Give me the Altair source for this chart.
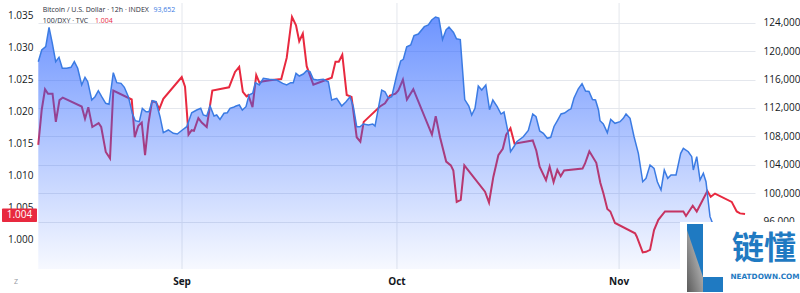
import altair as alt
import pandas as pd

# ---------------- data (time = days from 2025-09-01 00:00 UTC) ----------------
btc_day = [-20.06,-19.58,-19.02,-18.56,-18.10,-17.63,-17.17,-16.71,-16.09,-15.49,
           -15.03,-14.56,-14.00,-13.54,-13.16,-12.60,-12.14,-11.68,-11.21,-10.65,
           -10.19,-9.59,-9.11,-8.51,-8.05,-7.49,-6.94,-6.52,-5.96,-5.54,
           -5.02,-4.61,-4.15,-3.63,-3.07,-2.61,-1.91,-1.21,-0.66,0.04,
           0.66,1.35,2.05,2.61,2.97,3.45,3.91,4.47,4.84,5.30,
           5.86,6.32,6.70,7.16,7.54,8.00,8.42,8.93,9.35,9.87,
           10.23,10.79,11.35,12.18,13.22,14.05,14.61,15.17,15.53,15.91,
           16.37,16.93,17.40,17.86,18.33,18.88,19.72,20.42,20.89,21.59,
           22.29,22.89,23.45,23.91,24.38,24.84,25.30,26.00,26.62,26.94,
           27.40,27.87,28.33,28.79,29.27,29.97,30.52,30.89,31.36,31.92,
           32.38,32.98,33.82,34.38,34.85,35.38,35.84,36.36,36.85,37.26,
           37.89,38.31,38.84,39.46,40.03,40.43,40.89,41.35,41.83,42.40,
           42.92,43.38,43.99,44.52,44.94,45.54,45.85,46.38,46.71,47.63,
           48.33,48.95,49.41,49.92,50.43,50.98,51.46,51.92,52.41,52.90,
           53.39,53.94,54.29,54.71,55.31,55.83,56.32,56.80,57.29,57.71,
           58.13,58.34,58.80,59.36,59.83,60.43,61.13,61.59,61.97,62.53,
           63.09,63.69,64.30,64.76,65.32,65.88,66.34,66.85,67.31,67.79,
           68.25,68.95,69.60,69.97,70.66,71.14,71.36,71.84,72.30,72.76,
           73.13,73.69,74.53,75.50,76.50,77.50,78.58]
btc_price = [118510,120160,120620,123350,121100,118510,119130,117580,117580,117720,
             118510,117580,115230,116310,115690,113110,113580,114420,113580,112650,
             112510,116960,115550,115460,114900,113580,111240,110200,110060,111940,
             111460,111460,113010,112870,110760,108510,108890,108420,108320,108890,
             109350,111320,111700,111940,111000,110860,112270,110860,111000,110390,
             111240,111320,111940,112080,112270,112410,111700,112170,113820,114060,
             115550,115230,116170,116030,115930,115460,115230,115550,115550,116870,
             116490,116770,117240,117100,116030,115930,116030,115690,113110,113350,
             112270,112870,113580,112170,109350,109350,109730,109590,109730,109450,
             111940,114520,114280,113390,113580,116630,118610,118850,120620,120860,
             122200,122410,123440,123680,124380,124800,124660,121630,123000,123390,
             122620,121730,121620,113170,112270,111000,111940,115080,114520,115230,
             111750,113110,112170,111140,111420,108420,105830,106630,107240,107940,
             108820,111140,110760,108750,108420,107720,107860,109380,110250,111140,
             111280,111700,111870,113390,114690,115420,114380,114310,113180,113110,
             111700,110200,109730,108510,110390,109830,110060,110530,111140,110530,
             107940,105600,101600,102080,103960,103490,101600,100440,103250,102080,
             102550,102550,105600,106310,105830,105130,103250,105130,101840,102790,
             101600,96680,94520,93900,95100,93200,93652]

dxy_day = [-20.06,-19.58,-19.12,-18.70,-18.07,-17.61,-17.10,-16.64,-14.00,-13.54,
           -13.08,-12.52,-11.64,-11.28,-10.64,-10.05,-9.59,-7.02,-6.60,-6.10,
           -5.62,-5.16,-4.70,-4.19,-3.63,-3.17,-2.61,-0.04,0.42,0.91,
           1.35,1.67,2.28,2.75,3.45,4.23,6.56,7.40,7.98,8.49,
           9.00,9.25,9.84,10.36,10.82,11.17,12.28,13.85,14.61,15.35,
           15.91,16.36,16.86,17.40,18.33,19.96,20.89,21.42,21.88,22.37,
           22.99,23.66,24.38,24.89,25.36,27.63,28.33,29.03,29.80,30.19,
           30.83,31.39,32.28,34.88,35.41,36.01,36.87,37.52,37.87,38.34,
           38.90,39.40,42.29,42.85,43.45,44.15,44.77,45.25,45.84,46.41,
           48.95,49.45,49.91,50.80,51.31,51.86,52.38,52.85,53.33,55.90,
           56.25,56.85,57.82,58.38,58.80,59.36,59.78,60.43,63.23,63.46,
           64.30,64.76,65.32,65.88,66.48,67.41,69.97,70.34,71.28,71.84,
           73.32,73.79,74.39,76.72,77.42,77.88,78.58]
dxy_value = [1.0147,1.0202,1.0234,1.0227,1.0227,1.0183,1.0217,1.0221,1.0207,1.0188,
             1.0206,1.0175,1.0181,1.0175,1.0136,1.0126,1.0232,1.0218,1.0159,1.0177,
             1.0182,1.0131,1.0180,1.0215,1.0214,1.0203,1.0219,1.0253,1.0238,1.0163,
             1.0170,1.0169,1.0189,1.0182,1.0175,1.0232,1.0237,1.0261,1.0269,1.0230,
             1.0223,1.0225,1.0206,1.0256,1.0244,1.0246,1.0248,1.0250,1.0283,1.0347,
             1.0334,1.0309,1.0321,1.0270,1.0241,1.0248,1.0252,1.0277,1.0277,1.0288,
             1.0225,1.0222,1.0159,1.0152,1.0183,1.0207,1.0212,1.0224,1.0227,1.0232,
             1.0249,1.0218,1.0234,1.0163,1.0192,1.0159,1.0121,1.0115,1.0107,1.0058,
             1.0061,1.0115,1.0074,1.0057,1.0097,1.0131,1.0141,1.0163,1.0173,1.0149,
             1.0154,1.0138,1.0113,1.0092,1.0113,1.0089,1.0108,1.0098,1.0107,1.0110,
             1.0118,1.0137,1.0119,1.0088,1.0072,1.0047,1.0043,1.0025,1.0009,1.0004,
             0.9979,0.9980,0.9983,1.0014,1.0030,1.0043,1.0043,1.0036,1.0052,1.0043,
             1.0075,1.0066,1.0071,1.0058,1.0043,1.0040,1.0039]

month_dates = ["2025-09-01T00:00:00Z", "2025-10-01T00:00:00Z", "2025-11-01T00:00:00Z"]
month_names = ["Sep", "Oct", "Nov"]
left_ticks = [1.000, 1.005, 1.010, 1.015, 1.020, 1.025, 1.030, 1.035]
right_ticks = [96000, 100000, 104000, 108000, 112000, 116000, 120000, 124000]

btc_last = "93,652"
dxy_last = "1.004"

# ---------------- build tables ----------------
base_t = pd.Timestamp("2025-09-01")


def to_iso(days):
    return [(base_t + pd.Timedelta(days=d)).strftime("%Y-%m-%dT%H:%M:%SZ") for d in days]


btc_df = pd.DataFrame({"t": to_iso(btc_day), "p": btc_price})
dxy_df = pd.DataFrame({"t": to_iso(dxy_day), "v": dxy_value})
month_df = pd.DataFrame({"t": month_dates, "m": month_names})
one = pd.DataFrame({"k": [0]})

FONT = "Open Sans"
RED = "#e8293f"
BLUE = "#3b7be3"
LOGO_BLUE = "#1f7ac2"
GRID = "#e4e7ed"
TXT = "#131722"

W, H = 717, 266
BLUE_MIN, BLUE_MAX = 89310, 126775

x_scale = alt.Scale(
    type="utc",
    domain=[alt.DateTime(year=2025, month=8, date=11, hours=21, minutes=36, utc=True),
            alt.DateTime(year=2025, month=11, date=19, hours=23, minutes=17, utc=True)],
)
red_scale = alt.Scale(domain=[0.995313, 1.036875], zero=False, nice=False)
blue_scale = alt.Scale(domain=[BLUE_MIN, BLUE_MAX], zero=False, nice=False)

x_enc = alt.X("t:T", scale=x_scale, axis=None)

# month gridlines + labels (drawn from month data through the time scale)
month_grid = alt.Chart(month_df).mark_rule(color=GRID, strokeWidth=1).encode(x=x_enc)
month_text = alt.Chart(month_df).mark_text(
    font=FONT, fontSize=10, fontWeight="bold", color=TXT, baseline="middle", align="center"
).encode(x=x_enc, y=alt.value(H + 13), text="m:N")

red_line = alt.Chart(dxy_df).mark_line(color=RED, strokeWidth=2).encode(
    x=x_enc,
    y=alt.Y("v:Q", scale=red_scale, title=None,
            axis=alt.Axis(orient="left", values=left_ticks, format=".3f", grid=False,
                          ticks=False, domain=False, labelFont=FONT, labelFontSize=10,
                          labelColor=TXT, labelPadding=5)),
)

grad = alt.Gradient(
    gradient="linear",
    stops=[alt.GradientStop(color="rgba(41,98,255,0.68)", offset=0),
           alt.GradientStop(color="rgba(41,98,255,0.04)", offset=1)],
    x1=1, x2=1, y1=0, y2=1,
)

btc_area = alt.Chart(btc_df).mark_area(color=grad).encode(
    x=x_enc,
    y=alt.Y("p:Q", scale=blue_scale, title=None,
            axis=alt.Axis(orient="right", values=right_ticks, format=",d", grid=True,
                          gridColor=GRID, ticks=False, domain=False, labelFont=FONT,
                          labelFontSize=10, labelColor=TXT, labelPadding=8)),
    y2=alt.Y2(datum=BLUE_MIN),
)

btc_line = alt.Chart(btc_df).mark_line(color=BLUE, strokeWidth=1.5).encode(
    x=x_enc,
    y=alt.Y("p:Q", scale=blue_scale, axis=None),
)

# price badge on the left axis
badge = alt.Chart(one).mark_rect(color=RED, cornerRadius=1).encode(
    x=alt.value(-36), x2=alt.value(-1),
    y=alt.Y(datum=1.00477, type="quantitative", scale=red_scale, axis=None),
    y2=alt.Y2(datum=1.00266),
)
badge_text = alt.Chart(one).mark_text(
    color="white", font=FONT, fontSize=10, align="center", baseline="middle"
).encode(
    x=alt.value(-18.5),
    y=alt.Y(datum=1.00372, type="quantitative", scale=red_scale, axis=None),
    text=alt.value(dxy_last),
)


def label(txt, x, y, color, size=7, weight="normal", font=FONT, align="left"):
    return alt.Chart(one).mark_text(
        color=color, font=font, fontSize=size, fontWeight=weight, align=align, baseline="middle"
    ).encode(x=alt.value(x), y=alt.value(y), text=alt.value(txt))


hdr = [
    label("Bitcoin / U.S. Dollar · 12h · INDEX", 4.7, 7, "#2a2e39"),
    label(btc_last, 115.5, 7, BLUE),
    label("100/DXY · TVC", 4.7, 17.7, "#2a2e39"),
    label(dxy_last, 57, 17.7, RED),
    label("Z", -24, 279, "#9598a1", size=7),
]

# watermark logo
logo_bg = alt.Chart(one).mark_rect(color="white").encode(
    x=alt.value(642), x2=alt.value(762), y=alt.value(219), y2=alt.value(290))
logo_bar = alt.Chart(one).mark_rect(color=LOGO_BLUE).encode(
    x=alt.value(649), x2=alt.value(665), y=alt.value(221), y2=alt.value(289))
logo_foot = alt.Chart(one).mark_rect(color=LOGO_BLUE).encode(
    x=alt.value(665), x2=alt.value(685), y=alt.value(274), y2=alt.value(289))
gray_grad = alt.Gradient(
    gradient="linear",
    stops=[alt.GradientStop(color="#d8d8d8", offset=0),
           alt.GradientStop(color="#5a5a5a", offset=1)],
    x1=1, x2=0, y1=0, y2=1,
)
logo_tri = alt.Chart(one).mark_point(
    shape="M-8,-28L8,19L8,34L-8,34Z", size=4, filled=True, fill=gray_grad,
    strokeWidth=0, opacity=1,
).encode(x=alt.value(657), y=alt.value(255))
logo_cn = label("链懂", 726, 246, LOGO_BLUE, size=32, weight="bold",
                font="Noto Sans CJK SC", align="center")
logo_en = label("NEATDOWN.COM", 727, 274, LOGO_BLUE, size=7.3, weight="bold",
                font="DejaVu Sans", align="center")

chart = alt.layer(
    month_grid, red_line, btc_area, btc_line, month_text, badge, badge_text, *hdr,
    logo_bg, logo_bar, logo_tri, logo_foot, logo_cn, logo_en,
).resolve_scale(y="independent").properties(
    width=W, height=H,
    autosize=alt.AutoSizeParams(type="none"),
    padding={"left": 38, "top": 3, "right": 45, "bottom": 24},
    background="white",
).configure_view(stroke=None)

chart.save("out.html", embed_options={"renderer": "svg", "actions": False})
